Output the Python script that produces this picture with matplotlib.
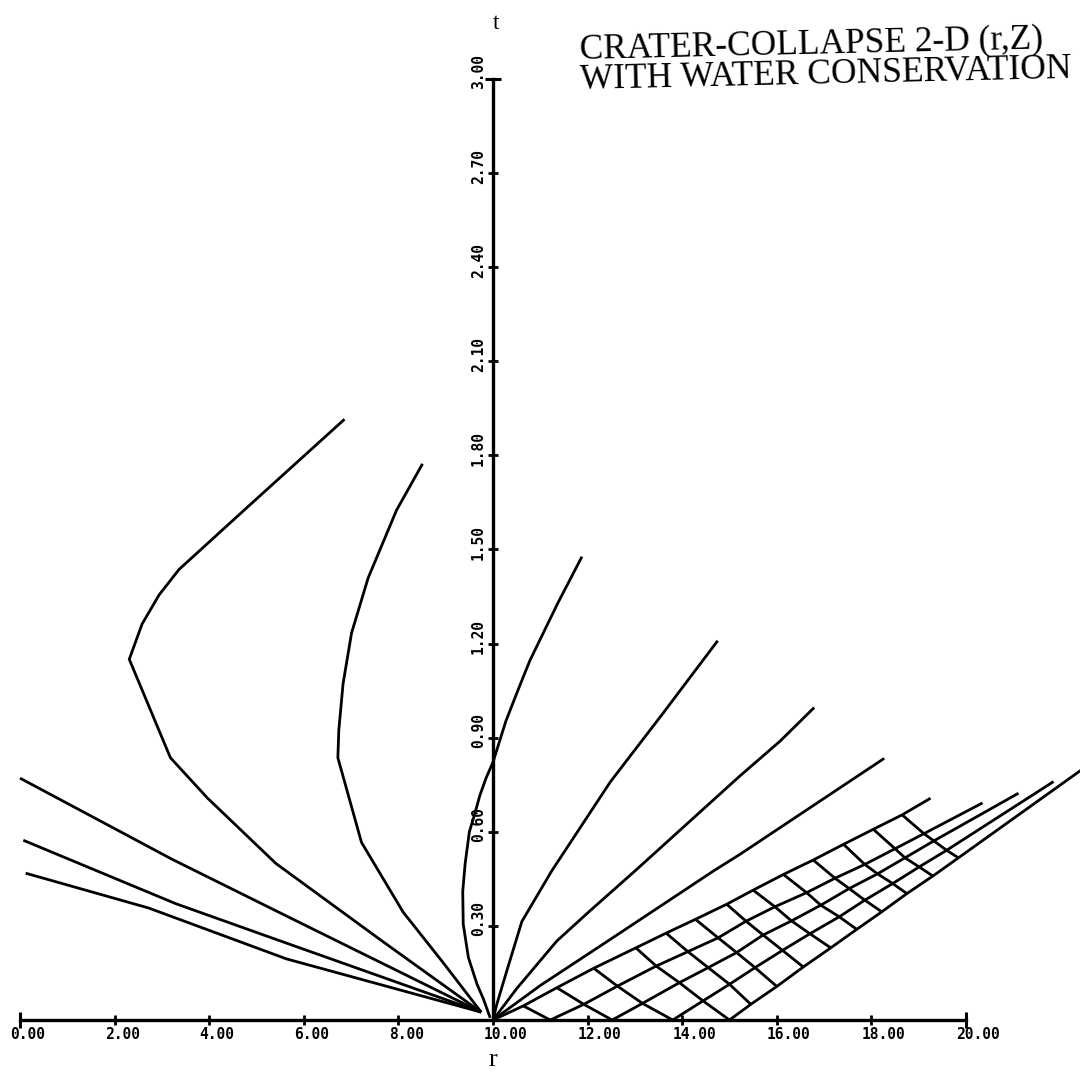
import numpy as np
import matplotlib.pyplot as plt

nan = np.nan

# axes ticks
r_ticks = [0, 2, 4, 6, 8, 10, 12, 14, 16, 18, 20]
r_labels = ["0.00", "2.00", "4.00", "6.00", "8.00", "10.00",
            "12.00", "14.00", "16.00", "18.00", "20.00"]
t_ticks = [0.3, 0.6, 0.9, 1.2, 1.5, 1.8, 2.1, 2.4, 2.7, 3.0]
t_labels = ["0.30", "0.60", "0.90", "1.20", "1.50", "1.80",
            "2.10", "2.40", "2.70", "3.00"]

# curves on the left of r = 10
curve_a_r = [6.86, 4.78, 3.36, 2.94, 2.58, 2.31, 3.18, 3.96, 5.41, 7.68, 9.75]
curve_a_t = [1.915, 1.631, 1.436, 1.355, 1.262, 1.150, 0.836, 0.708, 0.499, 0.249, 0.025]
curve_b_r = [8.51, 7.96, 7.36, 7.01, 6.83, 6.74, 6.72, 7.22, 8.10, 8.95, 9.75]
curve_b_t = [1.773, 1.625, 1.409, 1.234, 1.072, 0.924, 0.836, 0.566, 0.344, 0.182, 0.025]
ray_l1_r = [0.0, 3.22, 5.56, 9.75]
ray_l1_t = [0.771, 0.512, 0.337, 0.025]
ray_l2_r = [0.07, 3.29, 5.56, 9.75]
ray_l2_t = [0.573, 0.371, 0.249, 0.025]
ray_l3_r = [0.12, 2.72, 5.63, 9.75]
ray_l3_t = [0.468, 0.357, 0.195, 0.025]

# curve crossing the t axis
curve_c_r = [9.94, 9.80, 9.66, 9.48, 9.37, 9.36, 9.41, 9.50, 9.62, 9.72, 9.85,
             10.0, 10.27, 10.55, 10.78, 11.37, 11.88]
curve_c_t = [0.007, 0.066, 0.115, 0.199, 0.306, 0.41, 0.497, 0.60, 0.66, 0.715, 0.77,
             0.822, 0.952, 1.06, 1.146, 1.329, 1.477]

# rays on the right of r = 10
ray_r2_r = [10.0, 10.08, 10.29, 10.61, 11.24, 12.48, 13.58, 14.75]
ray_r2_t = [0.0, 0.05, 0.156, 0.314, 0.475, 0.759, 0.975, 1.209]
ray_r3_r = [10.0, 10.5, 11.35, 12.05, 13.0, 15.22, 16.07, 16.79]
ray_r3_t = [0.0, 0.10, 0.252, 0.348, 0.475, 0.778, 0.889, 0.996]
ray_r4_r = [10.0, 11.0, 12.48, 14.66, 15.22, 18.27]
ray_r4_t = [0.0, 0.11, 0.257, 0.475, 0.528, 0.834]

# characteristic mesh: row i = rising line, column j = falling line (last column = end)
mesh_r = np.array([
    [10.00, 10.64, 11.35, 12.13, 13.02, 13.66, 14.28, 14.94, 15.50, 16.14, 16.77, 17.41, 18.04, 18.65, 19.25],
    [nan, 11.21, 11.92, 12.63, 13.45, 14.12, 14.76, 15.35, 15.96, 16.63, 17.23, 17.86, 18.50, 19.11, 20.35],
    [nan, nan, 12.52, 13.16, 13.94, 14.55, 15.15, 15.71, 16.31, 16.93, 17.53, 18.13, 18.71, 19.32, 21.11],
    [nan, nan, nan, 13.80, 14.44, 15.00, 15.54, 16.12, 16.70, 17.32, 17.86, 18.45, 19.01, 19.59, 21.85],
    [nan, nan, nan, nan, 15.00, 15.45, 16.00, 16.56, 17.14, 17.69, 18.22, 18.75, 19.30, 19.84, 23.30],
])
mesh_t = np.array([
    [0.0, 0.045, 0.103, 0.165, 0.230, 0.277, 0.321, 0.369, 0.414, 0.464, 0.510, 0.560, 0.608, 0.654, 0.707],
    [nan, 0.0, 0.050, 0.108, 0.172, 0.218, 0.262, 0.315, 0.361, 0.406, 0.452, 0.496, 0.546, 0.594, 0.692],
    [nan, nan, 0.0, 0.053, 0.119, 0.167, 0.215, 0.271, 0.316, 0.366, 0.419, 0.466, 0.517, 0.571, 0.723],
    [nan, nan, nan, 0.0, 0.061, 0.114, 0.167, 0.222, 0.275, 0.329, 0.382, 0.435, 0.488, 0.541, 0.760],
    [nan, nan, nan, nan, 0.0, 0.050, 0.107, 0.169, 0.230, 0.289, 0.345, 0.403, 0.459, 0.517, 0.890],
])

title_lines = ["CRATER-COLLAPSE 2-D (r,Z)", "WITH WATER CONSERVATION"]

fig = plt.figure(figsize=(10.8, 10.75), dpi=100)
ax = fig.add_axes([0, 0, 1, 1])
ax.set_xlim(-0.423, 22.41)
ax.set_ylim(-0.1753, 3.2515)
ax.axis("off")

lw = 2.0
kw = dict(color="black", lw=lw, solid_joinstyle="miter", solid_capstyle="butt")

# axes
ax.plot([r_ticks[0], r_ticks[-1]], [0, 0], color="black", lw=2.4)
ax.plot([10, 10], [0, t_ticks[-1]], color="black", lw=2.4)
ax.plot(r_ticks[1:-1], [0] * (len(r_ticks) - 2), ls="none", marker="|",
        ms=7, mew=2, color="black")
ax.plot([r_ticks[0], r_ticks[-1]], [0, 0], ls="none", marker="|", ms=12, mew=2.2, color="black")
ax.plot([10] * (len(t_ticks) - 1), t_ticks[:-1], ls="none", marker="_",
        ms=7, mew=2, color="black")
ax.plot([10], [t_ticks[-1]], ls="none", marker="_", ms=12, mew=2.2, color="black")

for r, lab in zip(r_ticks, r_labels):
    ax.annotate(lab, (r, 0), xytext=(-7, -10.5), textcoords="offset points",
                ha="left", va="center", family="DejaVu Sans Mono",
                weight="bold", fontsize=10.5)
for t, lab in zip(t_ticks, t_labels):
    ax.annotate(lab, (10, t), xytext=(-10.5, 5), textcoords="offset points",
                ha="center", va="center", rotation=90, family="DejaVu Sans Mono",
                weight="bold", fontsize=10.5)

ax.annotate("r", (10, 0), xytext=(0, -29), textcoords="offset points",
            ha="center", va="center", family="Liberation Serif", fontsize=19)
ax.annotate("t", (10, t_ticks[-1]), xytext=(2, 40), textcoords="offset points",
            ha="center", va="center", family="Liberation Serif", fontsize=17)

# curves
for rr, tt in [(curve_a_r, curve_a_t), (curve_b_r, curve_b_t),
               (ray_l1_r, ray_l1_t), (ray_l2_r, ray_l2_t), (ray_l3_r, ray_l3_t),
               (curve_c_r, curve_c_t), (ray_r2_r, ray_r2_t),
               (ray_r3_r, ray_r3_t), (ray_r4_r, ray_r4_t)]:
    ax.plot(rr, tt, **kw)

# mesh
for i in range(mesh_r.shape[0]):
    ax.plot(mesh_r[i], mesh_t[i], **kw)
for j in range(1, mesh_r.shape[1] - 1):
    ax.plot(mesh_r[:, j], mesh_t[:, j], **kw)

# title
for k, line in enumerate(title_lines):
    fig.text(580 / 1080, 1 - (58 + 31 * k) / 1075, line, family="Liberation Serif",
             fontsize=25.5, rotation=1.3, rotation_mode="anchor", ha="left", va="baseline")

fig.savefig("out.png", dpi=100)
